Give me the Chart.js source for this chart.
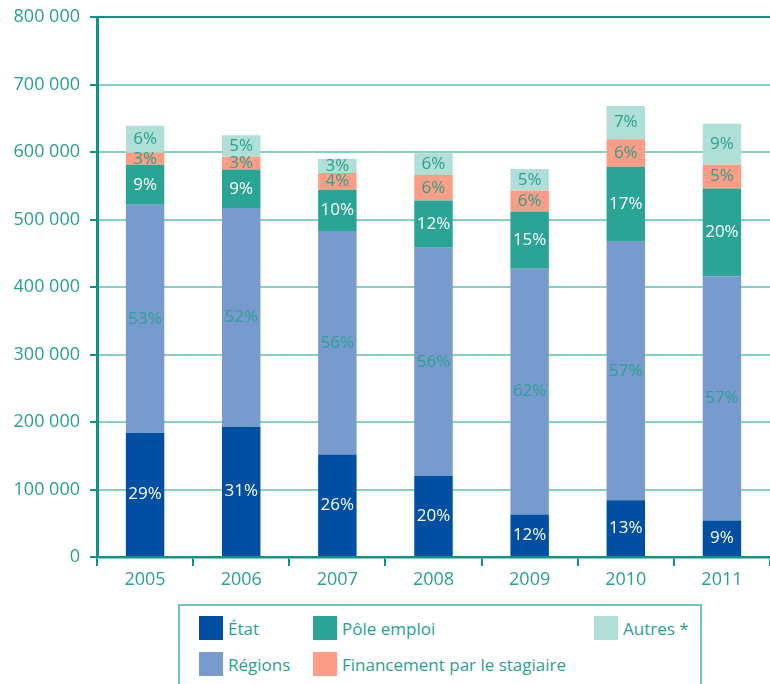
<!DOCTYPE html>
<html lang="fr">
<head>
<meta charset="utf-8">
<title>Financement de la formation</title>
<script src="https://cdn.jsdelivr.net/npm/chart.js@4.4.1/dist/chart.umd.min.js"></script>
<style>
  body { margin: 0; background: #fff; font-family: 'Open Sans', sans-serif; }
  #wrap { position: relative; width: 770px; height: 684px; overflow: hidden; }
  #zone { position: absolute; left: 0; top: 0; width: 770px; height: 600px; }
  #legende { position: absolute; left: 178px; top: 604px; width: 524px; height: 110px;
             border: 2px solid #6cc5b8; box-sizing: border-box; }
  .item { position: absolute; display: flex; align-items: center; color: #2aa18f; font-size: 17px; white-space: nowrap; }
  .carre { width: 24px; height: 24px; margin-right: 5px; }
</style>
</head>
<body>
<div id="wrap">
  <div id="zone"><canvas id="graphique"></canvas></div>
  <div id="legende"></div>
</div>
<script>
// Données (nombre de stagiaires par financeur)
const annees = ['2005', '2006', '2007', '2008', '2009', '2010', '2011'];
const etat = [184000, 193000, 152000, 120000, 63000, 84000, 54000];
const regions = [338000, 324000, 331000, 338000, 364000, 383000, 362000];
const poleEmploi = [59000, 57000, 61000, 70000, 85000, 111000, 130000];
const stagiaire = [18000, 19000, 25000, 38000, 31000, 41000, 35000];
const autres = [40000, 32000, 21000, 32000, 32000, 49000, 61000];

// Parts affichées dans les barres (%)
const pctEtat = [29, 31, 26, 20, 12, 13, 9];
const pctRegions = [53, 52, 56, 56, 62, 57, 57];
const pctPole = [9, 9, 10, 12, 15, 17, 20];
const pctStagiaire = [3, 3, 4, 6, 6, 6, 5];
const pctAutres = [6, 5, 3, 6, 5, 7, 9];

const graduations = [0, 100000, 200000, 300000, 400000, 500000, 600000, 700000, 800000];

const TEAL = '#2aa18f';
const TEAL_FONCE = '#0f9482';
const TEAL_CLAIR = '#86d0c4';

const series = [
    { label: 'État', data: etat, pct: pctEtat, couleur: '#004fa3', texte: '#ffffff' },
    { label: 'Régions', data: regions, pct: pctRegions, couleur: '#789bcf', texte: TEAL },
    { label: 'Pôle emploi', data: poleEmploi, pct: pctPole, couleur: '#2aa595', texte: '#ffffff' },
    { label: 'Financement par le stagiaire', data: stagiaire, pct: pctStagiaire, couleur: '#fd9d85', texte: TEAL },
    { label: 'Autres *', data: autres, pct: pctAutres, couleur: '#b0dfd8', texte: TEAL }
];

function formatNombre(v) {
    return String(v).replace(/\B(?=(\d{3})+(?!\d))/g, ' ');
}

// pourcentages au milieu de chaque segment
const etiquettes = {
    id: 'etiquettes',
    afterDatasetsDraw(chart) {
        const ctx = chart.ctx;
        ctx.save();
        ctx.font = '17px "Open Sans"';
        ctx.textAlign = 'center';
        ctx.textBaseline = 'middle';
        series.forEach((s, i) => {
            chart.getDatasetMeta(i).data.forEach((bar, j) => {
                ctx.fillStyle = s.texte;
                ctx.fillText(s.pct[j] + '%', bar.x, (bar.y + bar.base) / 2);
            });
        });
        ctx.restore();
    }
};

new Chart(document.getElementById('graphique'), {
    type: 'bar',
    data: {
        labels: annees,
        datasets: series.map(s => ({
            label: s.label,
            data: s.data,
            backgroundColor: s.couleur,
            borderWidth: 0,
            barPercentage: 0.4,
            categoryPercentage: 1
        }))
    },
    options: {
        responsive: true,
        maintainAspectRatio: false,
        animation: false,
        layout: { padding: { top: 17, right: 0, left: 0, bottom: 0 } },
        plugins: {
            legend: { display: false },
            tooltip: { enabled: false }
        },
        scales: {
            x: {
                stacked: true,
                afterFit: scale => { scale.height = 43; },
                border: { color: TEAL_FONCE, width: 2.5 },
                grid: { drawOnChartArea: false, drawTicks: true, tickLength: 9, color: TEAL_FONCE, lineWidth: 2 },
                ticks: { color: TEAL, font: { family: 'Open Sans', size: 18 }, padding: 3 }
            },
            y: {
                stacked: true,
                min: 0,
                max: 800000,
                afterFit: scale => {
                    scale.width = 97;
                    scale.paddingTop = 0;
                    scale.paddingBottom = 0;
                },
                afterBuildTicks: scale => { scale.ticks = graduations.map(v => ({ value: v })); },
                border: { color: TEAL_FONCE, width: 3 },
                grid: {
                    color: c => c.tick && c.tick.value === 800000 ? TEAL_FONCE : TEAL_CLAIR,
                    tickColor: TEAL_FONCE,
                    lineWidth: 2,
                    tickLength: 7
                },
                ticks: {
                    color: TEAL,
                    font: { family: 'Open Sans', size: 18 },
                    padding: 10,
                    callback: v => formatNombre(v)
                }
            }
        }
    },
    plugins: [etiquettes]
});

// légende en encadré, deux lignes
const positionsLegende = [
    { serie: 0, left: 19, top: 10 },
    { serie: 2, left: 133, top: 10 },
    { serie: 4, left: 414, top: 10 },
    { serie: 1, left: 19, top: 46 },
    { serie: 3, left: 133, top: 46 }
];
const boite = document.getElementById('legende');
positionsLegende.forEach(p => {
    const s = series[p.serie];
    const el = document.createElement('div');
    el.className = 'item';
    el.style.left = p.left + 'px';
    el.style.top = p.top + 'px';
    el.innerHTML = '<span class="carre" style="background:' + s.couleur + '"></span>';
    const txt = document.createElement('span');
    txt.textContent = s.label;
    el.appendChild(txt);
    boite.appendChild(el);
});
</script>
</body>
</html>
